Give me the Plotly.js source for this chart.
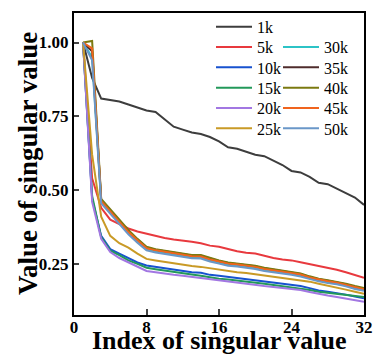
<!DOCTYPE html>
<html>
<head>
<meta charset="utf-8">
<script src="https://cdn.plot.ly/plotly-3.0.1.min.js"></script>
<style>
  html, body { margin: 0; padding: 0; background: #fff; }
  #chart { width: 383px; height: 363px; }
</style>
</head>
<body>
<div id="chart"></div>
<script>
// singular value index 1..32
var idx = [];
for (var i = 1; i <= 32; i++) idx.push(i);

var names = ["1k", "5k", "10k", "15k", "20k", "25k", "30k", "35k", "40k", "45k", "50k"];
var colors = ["#3d3d3d", "#e8393e", "#1752cf", "#23995a", "#a277e2", "#c99a26",
              "#2cc3c6", "#4f2c2c", "#7b7a10", "#f0641e", "#6a97c8"];

var v1k  = [1.00, 0.88, 0.81, 0.805, 0.80, 0.79, 0.78, 0.77, 0.765, 0.74, 0.715, 0.705, 0.695, 0.69, 0.68, 0.665,
            0.645, 0.64, 0.63, 0.62, 0.615, 0.60, 0.585, 0.565, 0.56, 0.545, 0.525, 0.52, 0.505, 0.49, 0.475, 0.45];
var v5k  = [1.00, 0.54, 0.44, 0.40, 0.385, 0.37, 0.36, 0.352, 0.345, 0.338, 0.333, 0.33, 0.325, 0.32, 0.312, 0.308,
            0.30, 0.293, 0.288, 0.285, 0.278, 0.27, 0.265, 0.262, 0.256, 0.25, 0.243, 0.237, 0.23, 0.222, 0.213, 0.203];
var v10k = [1.00, 0.47, 0.345, 0.30, 0.285, 0.27, 0.255, 0.245, 0.24, 0.235, 0.23, 0.225, 0.222, 0.22, 0.213, 0.21,
            0.206, 0.203, 0.198, 0.195, 0.192, 0.188, 0.183, 0.178, 0.175, 0.168, 0.16, 0.156, 0.152, 0.146, 0.14, 0.134];
var v15k = [1.00, 0.48, 0.34, 0.295, 0.28, 0.262, 0.25, 0.237, 0.232, 0.227, 0.222, 0.218, 0.214, 0.21, 0.204, 0.20,
            0.197, 0.194, 0.19, 0.186, 0.183, 0.179, 0.175, 0.172, 0.168, 0.162, 0.156, 0.152, 0.148, 0.145, 0.141, 0.138];
var v20k = [1.00, 0.46, 0.335, 0.29, 0.27, 0.255, 0.24, 0.226, 0.222, 0.217, 0.213, 0.21, 0.206, 0.202, 0.197, 0.193,
            0.19, 0.186, 0.182, 0.178, 0.175, 0.172, 0.169, 0.166, 0.162, 0.155, 0.148, 0.143, 0.138, 0.133, 0.128, 0.122];
var v25k = [1.00, 0.62, 0.41, 0.345, 0.32, 0.305, 0.285, 0.267, 0.262, 0.257, 0.252, 0.247, 0.243, 0.24, 0.235, 0.23,
            0.226, 0.222, 0.219, 0.215, 0.21, 0.206, 0.202, 0.20, 0.195, 0.19, 0.183, 0.177, 0.17, 0.163, 0.156, 0.149];
var v30k = [1.00, 0.95, 0.46, 0.425, 0.39, 0.355, 0.327, 0.30, 0.293, 0.288, 0.283, 0.277, 0.273, 0.272, 0.262, 0.255,
            0.248, 0.245, 0.241, 0.237, 0.23, 0.226, 0.221, 0.217, 0.211, 0.201, 0.194, 0.188, 0.184, 0.177, 0.168, 0.162];
var v35k = [1.00, 0.97, 0.467, 0.432, 0.397, 0.362, 0.333, 0.306, 0.298, 0.293, 0.288, 0.283, 0.279, 0.278, 0.268, 0.26,
            0.253, 0.25, 0.246, 0.242, 0.235, 0.23, 0.225, 0.221, 0.216, 0.206, 0.198, 0.193, 0.188, 0.181, 0.173, 0.166];
var v40k = [1.00, 1.005, 0.47, 0.435, 0.40, 0.365, 0.335, 0.308, 0.30, 0.295, 0.29, 0.285, 0.28, 0.28, 0.27, 0.262,
            0.255, 0.252, 0.248, 0.244, 0.237, 0.232, 0.227, 0.223, 0.218, 0.208, 0.20, 0.195, 0.19, 0.183, 0.175, 0.168];
var v45k = [1.00, 0.98, 0.463, 0.428, 0.393, 0.358, 0.33, 0.303, 0.296, 0.291, 0.286, 0.28, 0.276, 0.275, 0.265, 0.258,
            0.251, 0.248, 0.244, 0.24, 0.233, 0.228, 0.223, 0.219, 0.214, 0.204, 0.197, 0.191, 0.186, 0.179, 0.171, 0.164];
var v50k = [1.00, 0.94, 0.455, 0.42, 0.385, 0.35, 0.322, 0.296, 0.289, 0.284, 0.279, 0.273, 0.269, 0.268, 0.258, 0.251,
            0.244, 0.241, 0.237, 0.233, 0.226, 0.222, 0.217, 0.213, 0.207, 0.198, 0.191, 0.185, 0.181, 0.174, 0.165, 0.159];

var series = [v1k, v5k, v10k, v15k, v20k, v25k, v30k, v35k, v40k, v45k, v50k];

var xTicks = [0, 8, 16, 24, 32];
var yTicks = [0.25, 0.50, 0.75, 1.00];

var serif = "Liberation Serif";

// legend layout: first column 1k..25k, second column 30k..50k starting on row 2
var legRow = [0, 1, 2, 3, 4, 5, 1, 2, 3, 4, 5];
var legCol = [0, 0, 0, 0, 0, 0, 1, 1, 1, 1, 1];

var plotL = 74, plotR = 364, plotT = 10, plotB = 315;
var W = 383, H = 363;

var traces = [];
var layout = {
    width: W,
    height: H,
    margin: { l: plotL, r: W - plotR, t: plotT, b: H - plotB },
    paper_bgcolor: "#fff",
    plot_bgcolor: "#fff",
    showlegend: true,
    font: { family: serif, size: 16, color: "#000" },
    xaxis: {
        range: [0, 32],
        tickvals: xTicks,
        ticks: "inside",
        ticklen: 6,
        tickwidth: 2,
        ticklabelstandoff: -4,
        showline: true,
        mirror: true,
        linewidth: 2,
        linecolor: "#000",
        showgrid: false,
        zeroline: false,
        tickfont: { family: serif, size: 17, weight: "bold", color: "#000" }
    },
    yaxis: {
        range: [0.077, 1.10],
        tickvals: yTicks,
        tickformat: ".2f",
        ticks: "inside",
        ticklen: 5,
        tickwidth: 2,
        showline: true,
        mirror: true,
        linewidth: 2,
        linecolor: "#000",
        showgrid: false,
        zeroline: false,
        tickfont: { family: serif, size: 17, weight: "bold", color: "#000" }
    },
    annotations: [
        {
            text: "Index of singular value",
            xref: "paper", yref: "paper",
            x: 0.5, y: (plotB - 341) / (plotB - plotT),
            xanchor: "center", yanchor: "middle",
            showarrow: false,
            font: { family: serif, size: 26, weight: "bold", color: "#000" }
        },
        {
            text: "Value of singular value",
            xref: "paper", yref: "paper",
            x: (28 - plotL) / (plotR - plotL), y: 0.5,
            xanchor: "center", yanchor: "middle",
            textangle: -90,
            showarrow: false,
            font: { family: serif, size: 27, weight: "bold", color: "#000" }
        }
    ]
};

var rowY = [24, 44.5, 65, 85.5, 106, 126.5];
var colX = [211, 278];

names.forEach(function (name, k) {
    var legName = k === 0 ? "legend" : "legend" + (k + 1);
    traces.push({
        x: idx,
        y: series[k],
        type: "scatter",
        mode: "lines",
        name: name,
        legend: legName,
        line: { color: colors[k], width: 2 }
    });
    layout[legName] = {
        x: (colX[legCol[k]] - plotL) / (plotR - plotL),
        y: (plotB - rowY[legRow[k]]) / (plotB - plotT),
        xanchor: "left",
        yanchor: "middle",
        bgcolor: "rgba(0,0,0,0)",
        borderwidth: 0,
        itemwidth: 36,
        font: { family: serif, size: 16, color: "#000" }
    };
});

Plotly.newPlot("chart", traces, layout, { displayModeBar: false, staticPlot: true });
</script>
</body>
</html>
